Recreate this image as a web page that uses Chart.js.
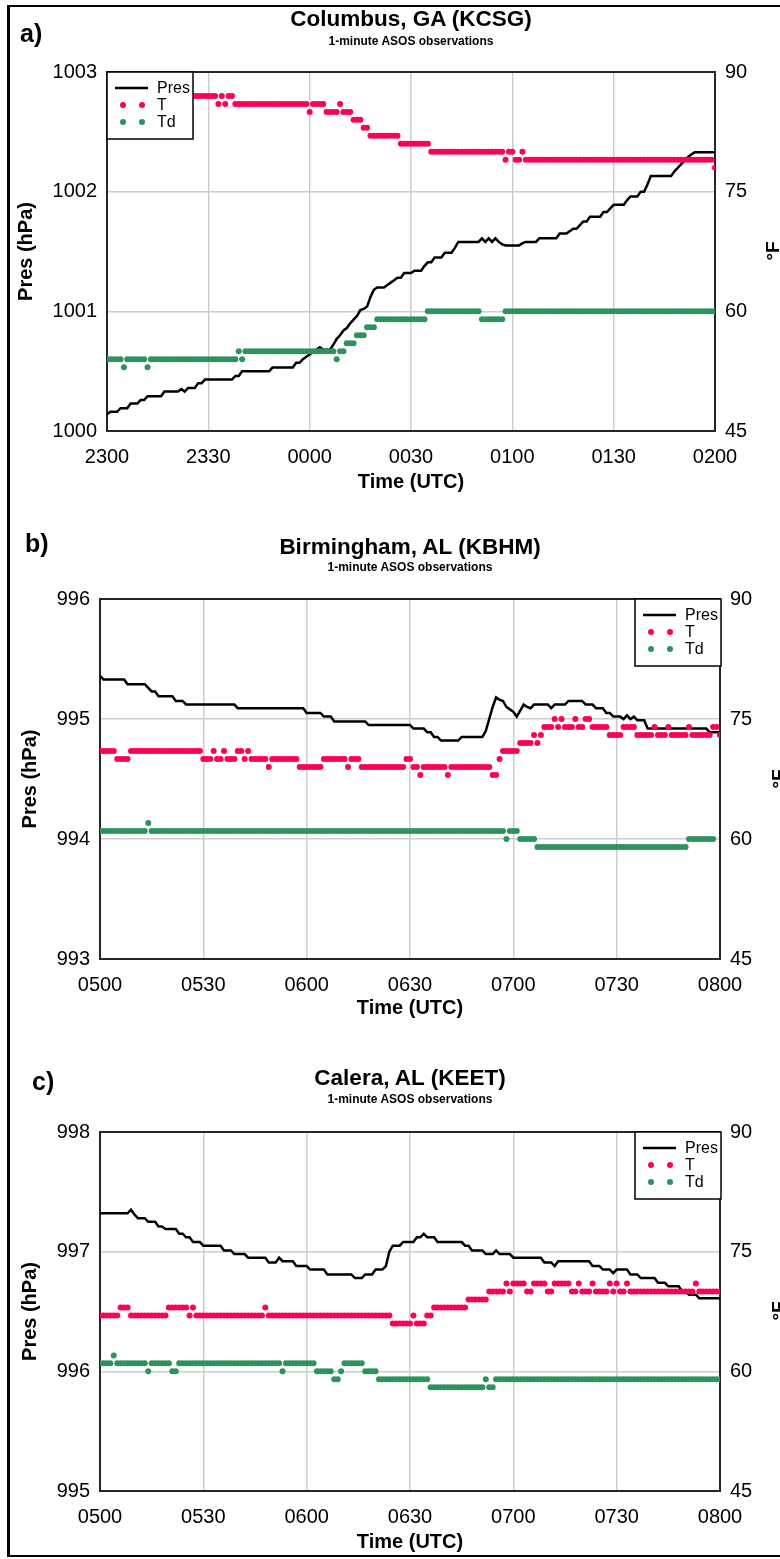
<!DOCTYPE html>
<html lang="en">
<head>
<meta charset="UTF-8">
<title>1-minute ASOS observations</title>
<style>
  body { margin: 0; background: #fff; }
  .page { position: relative; width: 780px; height: 1559px; overflow: hidden; background: #fff;
          font-family: "Liberation Sans", Arial, sans-serif; color: #000; }
  .frame { position: absolute; left: 7px; top: 5px; width: 830px; height: 1548px;
           border: 2px solid #000; border-left-width: 3px; }
  canvas { position: absolute; left: 0; }
  .txt { position: absolute; font-weight: bold; white-space: nowrap; line-height: 1; }
  .panel { font-size: 25px; }
  .title { font-size: 22.5px; transform: translateX(-50%); }
  .sub { font-size: 12px; transform: translateX(-50%); }
  .unit { font-size: 19px; transform: translate(-50%, -50%) rotate(-90deg); }
</style>
</head>
<body>
<div class="page">
  <div class="frame"></div>

  <canvas id="chartA" width="780" height="495" style="top:0px"></canvas>
  <canvas id="chartB" width="780" height="535" style="top:495px"></canvas>
  <canvas id="chartC" width="780" height="529" style="top:1030px"></canvas>

  <div class="txt panel" style="left:20px; top:21px">a)</div>
  <div class="txt title" style="left:411px; top:8px">Columbus, GA (KCSG)</div>
  <div class="txt sub" style="left:411px; top:35px">1-minute ASOS observations</div>
  <div class="txt unit" style="left:772px; top:251px">°F</div>

  <div class="txt panel" style="left:25px; top:531px">b)</div>
  <div class="txt title" style="left:410px; top:536px">Birmingham, AL (KBHM)</div>
  <div class="txt sub" style="left:410px; top:561px">1-minute ASOS observations</div>
  <div class="txt unit" style="left:778px; top:779px">°F</div>

  <div class="txt panel" style="left:32px; top:1069px">c)</div>
  <div class="txt title" style="left:410px; top:1067px">Calera, AL (KEET)</div>
  <div class="txt sub" style="left:410px; top:1093px">1-minute ASOS observations</div>
  <div class="txt unit" style="left:778px; top:1311px">°F</div>
</div>

<script src="https://cdn.jsdelivr.net/npm/chart.js"></script>
<script>
// tick labels for the time axes (one every 30 minutes)
const aTimeTicks = ['2300', '2330', '0000', '0030', '0100', '0130', '0200'];
const bTimeTicks = ['0500', '0530', '0600', '0630', '0700', '0730', '0800'];
const cTimeTicks = ['0500', '0530', '0600', '0630', '0700', '0730', '0800'];

// observations as runs: [value, number of consecutive minutes]
// a) Columbus, GA
const aPres = [
  [1000.14, 1], [1000.16, 3], [1000.19, 3], [1000.23, 3], [1000.26, 2], [1000.29, 5],
  [1000.33, 5], [1000.35, 1], [1000.33, 1], [1000.36, 3], [1000.40, 2], [1000.43, 9],
  [1000.46, 2], [1000.50, 9], [1000.53, 7], [1000.57, 2], [1000.60, 1], [1000.62, 1],
  [1000.64, 1], [1000.66, 1], [1000.68, 1], [1000.70, 1], [1000.68, 3], [1000.72, 1],
  [1000.77, 1], [1000.80, 1], [1000.84, 1], [1000.86, 1], [1000.90, 1], [1000.93, 1],
  [1000.96, 1], [1001.01, 1], [1001.02, 1], [1001.04, 1], [1001.12, 1], [1001.18, 1],
  [1001.20, 3], [1001.22, 1], [1001.24, 1], [1001.26, 1], [1001.28, 2], [1001.32, 3],
  [1001.34, 3], [1001.38, 1], [1001.41, 2], [1001.45, 3], [1001.49, 3], [1001.53, 1],
  [1001.58, 7], [1001.61, 1], [1001.58, 1], [1001.61, 1], [1001.58, 1], [1001.61, 1],
  [1001.58, 1], [1001.56, 1], [1001.55, 5], [1001.57, 1], [1001.58, 4], [1001.61, 6],
  [1001.65, 3], [1001.67, 1], [1001.69, 2], [1001.72, 1], [1001.75, 2], [1001.79, 4],
  [1001.83, 2], [1001.86, 1], [1001.89, 4], [1001.93, 1], [1001.96, 3], [1002.00, 2],
  [1002.06, 1], [1002.13, 7], [1002.17, 1], [1002.20, 1], [1002.23, 1], [1002.26, 1],
  [1002.29, 1], [1002.31, 1], [1002.33, 7]
];
const aTemp = [
  [87, 33], [86, 1], [87, 1], [86, 1], [87, 2], [86, 22], [85, 1], [86, 4], [85, 4],
  [86, 1], [85, 3], [84, 3], [83, 2], [82, 9], [81, 9], [80, 22], [79, 1], [80, 2],
  [79, 2], [80, 1], [79, 56], [78, 1]
];
const aDew = [
  [54, 5], [53, 1], [54, 6], [53, 1], [54, 26], [55, 1], [54, 1], [55, 27], [54, 1],
  [55, 2], [56, 3], [57, 3], [58, 3], [59, 15], [60, 16], [59, 7], [60, 63]
];

// b) Birmingham, AL
const bPres = [
  [995.36, 1], [995.33, 7], [995.29, 6], [995.26, 1], [995.23, 2], [995.19, 5],
  [995.15, 3], [995.12, 15], [995.09, 20], [995.05, 5], [995.02, 3], [994.98, 10],
  [994.95, 13], [994.92, 4], [994.89, 2], [994.85, 2], [994.82, 6], [994.85, 7],
  [994.90, 1], [995.00, 1], [995.10, 1], [995.18, 1], [995.16, 1], [995.15, 1],
  [995.10, 1], [995.08, 1], [995.06, 1], [995.02, 1], [995.07, 1], [995.12, 1],
  [995.10, 1], [995.09, 1], [995.12, 5], [995.09, 1], [995.12, 4], [995.15, 5],
  [995.12, 3], [995.09, 3], [995.05, 2], [995.02, 3], [995.00, 1], [995.03, 1],
  [995.00, 1], [995.02, 1], [994.99, 3], [994.92, 18], [994.89, 4]
];
const bTemp = [
  [71, 5], [70, 4], [71, 21], [70, 3], [71, 1], [70, 2], [71, 1], [70, 3], [71, 2],
  [70, 1], [71, 1], [70, 5], [69, 1], [70, 8], [69, 7], [70, 7], [69, 1], [70, 3],
  [69, 13], [70, 2], [69, 2], [68, 1], [69, 7], [68, 1], [69, 12], [68, 2], [70, 1],
  [71, 5], [72, 4], [73, 1], [72, 1], [73, 1], [74, 3], [75, 1], [74, 1], [75, 1],
  [74, 3], [75, 1], [74, 2], [75, 2], [74, 5], [73, 4], [74, 4], [73, 5], [74, 1],
  [73, 3], [74, 1], [73, 5], [74, 1], [73, 6], [74, 2], [73, 1]
];
const bDew = [
  [61, 14], [62, 1], [61, 103], [60, 1], [61, 3], [60, 5], [59, 44], [60, 8], [null, 2]
];

// c) Calera, AL
const cPres = [
  [997.32, 9], [997.35, 1], [997.31, 1], [997.28, 3], [997.25, 3], [997.21, 2],
  [997.19, 4], [997.15, 2], [997.12, 2], [997.08, 3], [997.05, 6], [997.01, 3],
  [996.98, 4], [996.95, 6], [996.91, 3], [996.95, 1], [996.92, 4], [996.88, 4],
  [996.85, 5], [996.81, 8], [996.78, 3], [996.81, 3], [996.85, 3], [996.88, 1],
  [997.00, 1], [997.05, 3], [997.08, 4], [997.12, 2], [997.15, 1], [997.12, 3],
  [997.08, 8], [997.05, 2], [997.01, 4], [996.98, 3], [997.01, 1], [996.98, 4],
  [996.95, 9], [996.91, 3], [996.88, 1], [996.92, 10], [996.88, 3], [996.85, 3],
  [996.82, 1], [996.85, 4], [996.81, 3], [996.78, 5], [996.74, 3], [996.71, 4],
  [996.67, 2], [996.64, 3], [996.61, 7]
];
const cTemp = [
  [67, 6], [68, 3], [67, 11], [68, 6], [67, 1], [68, 1], [67, 20], [68, 1], [67, 36],
  [66, 6], [67, 1], [66, 3], [67, 2], [68, 10], [69, 6], [70, 5], [71, 1], [70, 1],
  [71, 4], [70, 2], [71, 4], [70, 2], [71, 5], [70, 2], [71, 1], [70, 3], [71, 1],
  [70, 4], [71, 1], [70, 1], [71, 1], [70, 2], [71, 1], [70, 19], [71, 1], [70, 7]
];
const cDew = [
  [61, 4], [62, 1], [61, 9], [60, 1], [61, 6], [60, 2], [61, 30], [60, 1], [61, 9],
  [60, 5], [59, 2], [60, 1], [61, 6], [60, 4], [59, 15], [58, 16], [59, 1], [58, 2],
  [59, 66]
];

const RED = 'rgb(255, 0, 84)';
const GREEN = 'rgb(46, 146, 92)';
const FONT = '"Liberation Sans", Arial, sans-serif';

// turn the runs into one point per minute
function toPoints(runs) {
  const pts = [];
  let minute = 0;
  runs.forEach(([value, count]) => {
    for (let i = 0; i < count; i++) {
      pts.push({ x: minute, y: value });
      minute++;
    }
  });
  return pts;
}

// dark frame round the plot area
const framePlugin = {
  id: 'frame',
  beforeDatasetsDraw(chart) {
    const { ctx, chartArea: a } = chart;
    ctx.save();
    ctx.strokeStyle = '#262626';
    ctx.lineWidth = 2;
    ctx.strokeRect(a.left, a.top, a.right - a.left, a.bottom - a.top);
    ctx.restore();
  }
};

// boxed legend inside the plot (Excel style)
const boxLegend = {
  id: 'boxLegend',
  afterDatasetsDraw(chart, args, opts) {
    const { ctx, chartArea: a } = chart;
    const w = 86, h = 67;
    const x0 = opts.side === 'right' ? a.right - w + 1 : a.left;
    const y0 = a.top;
    ctx.save();
    ctx.fillStyle = '#fff';
    ctx.fillRect(x0, y0, w, h);
    ctx.strokeStyle = '#000';
    ctx.lineWidth = 1.5;
    ctx.strokeRect(x0, y0, w, h);
    ctx.font = '16px ' + FONT;
    ctx.textBaseline = 'middle';
    chart.data.datasets.forEach((ds, i) => {
      const y = y0 + 16 + i * 17;
      if (ds.showLine === false) {
        ctx.fillStyle = ds.pointBackgroundColor;
        [16, 35].forEach(dx => {
          ctx.beginPath();
          ctx.arc(x0 + dx, y, 3, 0, Math.PI * 2);
          ctx.fill();
        });
      } else {
        ctx.strokeStyle = ds.borderColor;
        ctx.lineWidth = 2.5;
        ctx.beginPath();
        ctx.moveTo(x0 + 8, y);
        ctx.lineTo(x0 + 41, y);
        ctx.stroke();
      }
      ctx.fillStyle = '#000';
      ctx.fillText(ds.label, x0 + 50, y + 1);
    });
    ctx.restore();
  }
};

function makePanel(id, p) {
  const canvas = document.getElementById(id);
  const H = canvas.height, W = canvas.width;
  const titleLH = 20 * 1.2;
  const padLeft = p.yTitleX - titleLH / 2;
  const padBottom = H - (p.xTitleY + titleLH / 2);

  return new Chart(canvas, {
    type: 'line',
    data: {
      datasets: [
        { label: 'Pres', data: toPoints(p.pres), yAxisID: 'y', borderColor: '#000',
          borderWidth: 2.5, pointRadius: 0, tension: 0, order: 3 },
        { label: 'T', data: toPoints(p.temp), yAxisID: 'y2', showLine: false,
          pointRadius: 3, pointBorderWidth: 0, pointBackgroundColor: RED, order: 2 },
        { label: 'Td', data: toPoints(p.dew), yAxisID: 'y2', showLine: false,
          pointRadius: 3, pointBorderWidth: 0, pointBackgroundColor: GREEN, order: 1 }
      ]
    },
    options: {
      responsive: false,
      animation: false,
      layout: { padding: { top: p.top, left: padLeft, right: 0, bottom: padBottom } },
      plugins: {
        legend: { display: false },
        tooltip: { enabled: false },
        boxLegend: { side: p.legendSide }
      },
      scales: {
        x: {
          type: 'linear', min: 0, max: 180,
          grid: { color: '#cdcdcd', lineWidth: 1.5, drawTicks: false },
          border: { display: false },
          ticks: {
            stepSize: 30, padding: 14, color: '#000', font: { family: FONT, size: 20 },
            callback: v => p.ticks[v / 30]
          },
          title: { display: true, text: 'Time (UTC)', color: '#000', padding: 0,
                   font: { family: FONT, size: 20, weight: 'bold' } },
          afterFit: s => { s.height = p.xTitleY + titleLH / 2 - p.bottom; }
        },
        y: {
          position: 'left', min: p.pMin, max: p.pMin + 3,
          grid: { color: '#cdcdcd', lineWidth: 1.5, drawTicks: false },
          border: { display: false },
          ticks: { stepSize: 1, padding: 10, color: '#000', font: { family: FONT, size: 20 },
                   callback: v => String(v) },
          title: { display: true, text: 'Pres (hPa)', color: '#000', padding: 0,
                   font: { family: FONT, size: 20, weight: 'bold' } },
          afterFit: s => { s.width = p.left - padLeft; }
        },
        y2: {
          position: 'right', min: 45, max: 90,
          grid: { display: false, drawTicks: false },
          border: { display: false },
          ticks: { stepSize: 15, padding: 10, color: '#000', font: { family: FONT, size: 20 } },
          afterFit: s => { s.width = W - p.right; }
        }
      }
    },
    plugins: [framePlugin, boxLegend]
  });
}

makePanel('chartA', { pres: aPres, temp: aTemp, dew: aDew, ticks: aTimeTicks, pMin: 1000,
  top: 72, bottom: 431, left: 107, right: 715, yTitleX: 26, xTitleY: 482, legendSide: 'left' });
makePanel('chartB', { pres: bPres, temp: bTemp, dew: bDew, ticks: bTimeTicks, pMin: 993,
  top: 104, bottom: 464, left: 100, right: 720, yTitleX: 30, xTitleY: 513, legendSide: 'right' });
makePanel('chartC', { pres: cPres, temp: cTemp, dew: cDew, ticks: cTimeTicks, pMin: 995,
  top: 102, bottom: 461, left: 100, right: 720, yTitleX: 30, xTitleY: 512, legendSide: 'right' });
</script>
</body>
</html>
